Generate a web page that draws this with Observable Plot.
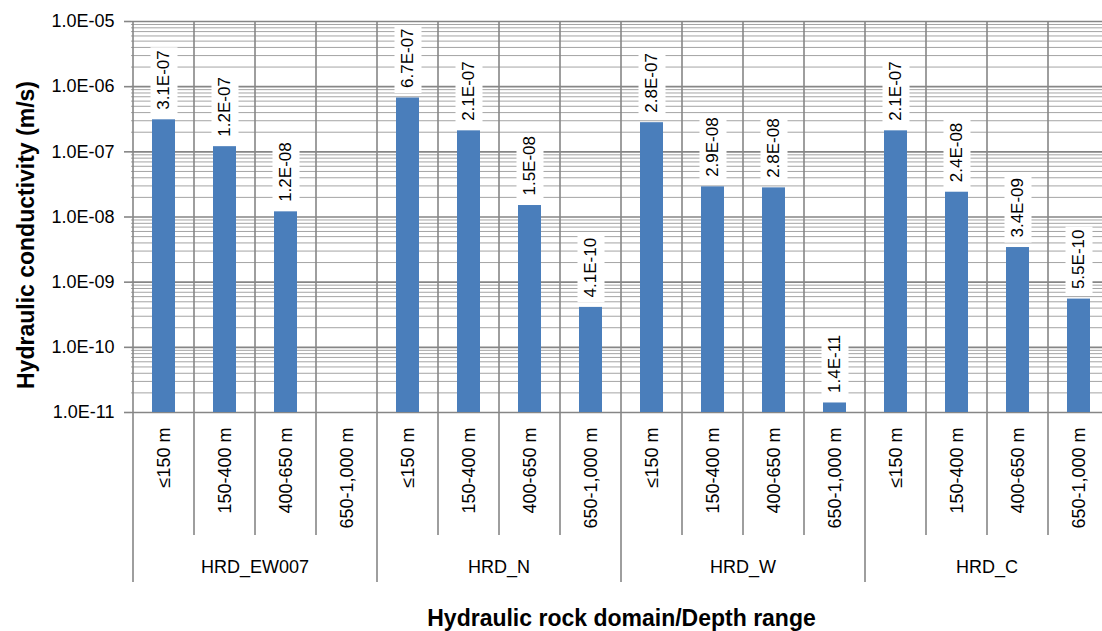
<!DOCTYPE html>
<html>
<head>
<meta charset="utf-8">
<script src="https://cdn.jsdelivr.net/npm/d3@7"></script>
<script src="https://cdn.jsdelivr.net/npm/@observablehq/plot@0.6"></script>
<style>
  body { margin: 0; background: #fff; overflow: hidden; }
</style>
</head>
<body>
<div id="chart"></div>
<script>
// Hydraulic rock domains and depth ranges
const domains = ["HRD_EW007", "HRD_N", "HRD_W", "HRD_C"];
const depths = ["≤150 m", "150-400 m", "400-650 m", "650-1,000 m"];

// Hydraulic conductivity (m/s) per depth range, one array per domain
const hrdEW007 = [3.1e-7, 1.2e-7, 1.2e-8, null];
const hrdN = [6.7e-7, 2.1e-7, 1.5e-8, 4.1e-10];
const hrdW = [2.8e-7, 2.9e-8, 2.8e-8, 1.4e-11];
const hrdC = [2.1e-7, 2.4e-8, 3.4e-9, 5.5e-10];

// Decade ticks of the log axis
const yTicks = [1e-11, 1e-10, 1e-9, 1e-8, 1e-7, 1e-6, 1e-5];

const series = [hrdEW007, hrdN, hrdW, hrdC];
const rows = domains.flatMap((dom, i) =>
  depths.map((depth, j) => ({domain: dom, depth, key: dom + "|" + depth, value: series[i][j]}))
);
const keys = rows.map(d => d.key);
const measured = rows.filter(d => d.value != null);

// Minor grid lines: 2..9 within each decade
const minorTicks = yTicks.slice(0, -1).flatMap(t => d3.range(2, 10).map(k => k * t));

// Scientific format in the style 1.0E-05
const sci = v => {
  const [m, e] = v.toExponential(1).split("e");
  const n = +e;
  return m + "E" + (n < 0 ? "-" : "+") + String(Math.abs(n)).padStart(2, "0");
};

const FONT = "'Liberation Sans', Arial, Helvetica, sans-serif";
const GRID = "#868686";

// Band separators through the plot and down through the category axis, plus domain labels
function bandSeparators(index, {x}, values, dim) {
  const g = d3.create("svg:g");
  const bw = x.bandwidth ? x.bandwidth() : x(keys[1]) - x(keys[0]);
  const top = dim.marginTop;
  const base = dim.height - dim.marginBottom;
  for (let i = 0; i <= keys.length; i++) {
    const px = i < keys.length ? x(keys[i]) : x(keys[keys.length - 1]) + bw;
    const groupEdge = i % depths.length === 0;
    g.append("line")
      .attr("x1", px).attr("x2", px)
      .attr("y1", top).attr("y2", base + (groupEdge ? 170 : 123))
      .attr("stroke", GRID).attr("stroke-width", 1.6);
  }
  domains.forEach((dom, i) => {
    const first = x(keys[i * depths.length]);
    g.append("text")
      .attr("x", first + bw * depths.length / 2)
      .attr("y", base + 155)
      .attr("dy", "0.35em")
      .attr("text-anchor", "middle")
      .attr("font-size", 18)
      .attr("fill", "#000")
      .text(dom);
  });
  return g.node();
}

// White boxes behind the value labels
const measureCtx = document.createElement("canvas").getContext("2d");
function boxedLabels(index, scales, values, dim, context, next) {
  const g = next(index, scales, values, dim, context);
  measureCtx.font = `17px ${FONT}`;
  g.querySelectorAll("text").forEach(t => {
    const w = measureCtx.measureText(t.textContent).width;
    const r = document.createElementNS("http://www.w3.org/2000/svg", "rect");
    r.setAttribute("x", -5);
    r.setAttribute("y", -13.5);
    r.setAttribute("width", w + 8);
    r.setAttribute("height", 27);
    r.setAttribute("fill", "#fff");
    if (t.getAttribute("transform")) r.setAttribute("transform", t.getAttribute("transform"));
    t.parentNode.insertBefore(r, t);
  });
  return g;
}

const chart = Plot.plot({
  width: 1102,
  height: 631,
  marginLeft: 131,
  marginRight: -9,
  marginTop: 21,
  marginBottom: 219,
  style: {fontFamily: FONT, fontSize: "18px", color: "#000", background: "#fff", overflow: "hidden"},
  x: {type: "band", domain: keys, padding: 0, axis: null},
  y: {type: "log", domain: [1e-11, 1e-5], axis: null},
  marks: [
    Plot.ruleY(minorTicks, {stroke: "#a4a4a4", strokeWidth: 1}),
    Plot.ruleY(yTicks, {stroke: GRID, strokeWidth: 1.6}),
    bandSeparators,
    Plot.barY(measured, {x: "key", y1: 1e-11, y2: "value", fill: "#4a7ebb", insetLeft: 19, insetRight: 19}),
    Plot.text(measured, {
      x: "key", y: "value", text: d => sci(d.value),
      rotate: -90, textAnchor: "start", lineAnchor: "middle", dy: -10,
      fontSize: 17, fill: "#000", render: boxedLabels
    }),
    Plot.axisY(yTicks, {
      tickSize: 7, tickPadding: 10, tickFormat: sci,
      stroke: GRID, strokeWidth: 1.6, fill: "#000", fontSize: 18, label: null
    }),
    Plot.text(rows, {
      x: "key", text: "depth", frameAnchor: "bottom",
      rotate: -90, textAnchor: "end", lineAnchor: "middle", dy: 15, fontSize: 18, fill: "#000"
    }),
    Plot.text(["Hydraulic conductivity (m/s)"], {
      text: d => d, frameAnchor: "left", dx: -105, dy: 18,
      rotate: -90, textAnchor: "middle", lineAnchor: "middle",
      fontSize: 23, fontWeight: "bold", fill: "#000"
    }),
    Plot.text(["Hydraulic rock domain/Depth range"], {
      text: d => d, frameAnchor: "bottom", dy: 206,
      textAnchor: "middle", lineAnchor: "middle",
      fontSize: 23, fontWeight: "bold", fill: "#000"
    })
  ]
});

document.getElementById("chart").append(chart);
</script>
</body>
</html>
